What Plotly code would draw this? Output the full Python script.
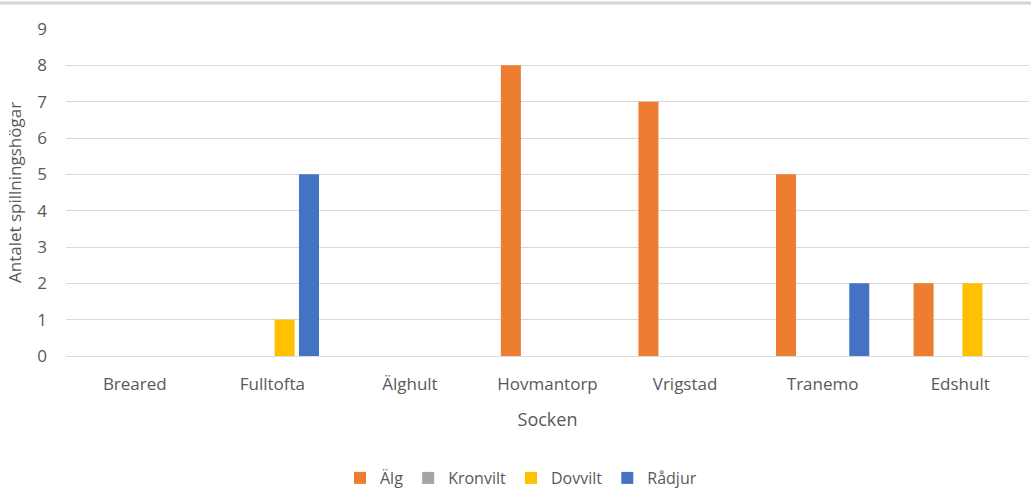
import plotly.graph_objects as go

categories = ["Breared", "Fulltofta", "Älghult", "Hovmantorp", "Vrigstad", "Tranemo", "Edshult"]
alg = [0, 0, 0, 8, 7, 5, 2]
kronvilt = [0, 0, 0, 0, 0, 0, 0]
dovvilt = [0, 1, 0, 0, 0, 0, 2]
radjur = [0, 5, 0, 0, 0, 2, 0]

series = [
    ("Älg", alg, "#ED7D31"),
    ("Kronvilt", kronvilt, "#A5A5A5"),
    ("Dovvilt", dovvilt, "#FFC000"),
    ("Rådjur", radjur, "#4472C4"),
]

fig = go.Figure()
for name, vals, col in series:
    fig.add_trace(go.Bar(x=categories, y=vals, name=name, marker=dict(color=col, line=dict(width=0))))

W, H = 1031, 491
ml, mr, mt, mb = 66, 2, 29, 135
plot_h = H - mt - mb
plot_w = W - ml - mr
FONT = "Open Sans, Liberation Sans, sans-serif"
TXT = "#595959"

fig.update_layout(
    width=W, height=H,
    margin=dict(l=ml, r=mr, t=mt, b=mb, autoexpand=False),
    paper_bgcolor="white", plot_bgcolor="white",
    barmode="group", bargap=0.29, bargroupgap=0.18,
    font=dict(family=FONT, size=17, color=TXT),
    showlegend=True,
    legend=dict(orientation="h", x=(521 - ml) / plot_w, xanchor="center",
                y=-(478 - 356) / plot_h, yanchor="middle",
                font=dict(size=16, color=TXT), itemwidth=30, traceorder="normal", tracegroupgap=0),
    xaxis=dict(showgrid=False, showline=False, ticks="", automargin=False,
               tickfont=dict(size=17, color=TXT), ticklabelstandoff=16,
               title=dict(text="Socken", font=dict(size=18, color=TXT), standoff=19)),
    yaxis=dict(range=[0, 9], dtick=1, showgrid=True, gridcolor="#D9D9D9", gridwidth=1, automargin=False,
               zeroline=True, zerolinecolor="#D9D9D9", zerolinewidth=1, showline=False,
               ticks="", ticklabelstandoff=18, tickfont=dict(size=17, color=TXT),
               title=dict(text="Antalet spillningshögar", font=dict(size=17, color=TXT), standoff=11)),
    shapes=[dict(type="line", xref="paper", yref="paper", x0=-ml / plot_w, x1=1 + mr / plot_w,
                 y0=1 + (mt - 3) / plot_h, y1=1 + (mt - 3) / plot_h,
                 line=dict(color="#D4D4D4", width=3))],
)

fig.write_html("out.html")
